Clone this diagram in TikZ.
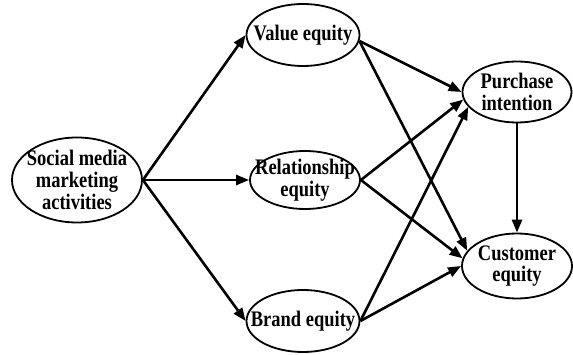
\documentclass[tikz,border=0pt]{standalone}
\usepackage{fontspec}
\setmainfont{Liberation Serif}
\usetikzlibrary{shapes.geometric,arrows.meta}

\begin{document}
\begin{tikzpicture}[
    x=1pt, y=-1pt,
    eqbox/.style={ellipse,draw,line width=1.8pt,inner sep=0pt},
    eqtext/.style={font=\fontsize{18.5}{18.2}\selectfont\bfseries,
        align=center,inner sep=0pt,yscale=1.2,transform shape},
    link/.style={line width=2.6pt,-{Triangle[length=13pt,width=10pt]}}]
    \useasboundingbox (0,0) rectangle (573,355);

    \node[eqbox,minimum width=130pt,minimum height=85pt,
        label={[eqtext]center:Social media\\marketing\\activities}] (smm) at (77,180) {};
    \node[eqbox,minimum width=113pt,minimum height=62pt,
        label={[eqtext]center:Value equity}] (val) at (303,35) {};
    \node[eqbox,minimum width=110pt,minimum height=58pt,
        label={[eqtext]center:Relationship\\equity}] (rel) at (305,180) {};
    \node[eqbox,minimum width=113pt,minimum height=62pt,
        label={[eqtext]center:Brand equity}] (brand) at (303,321) {};
    \node[eqbox,minimum width=109pt,minimum height=61pt,
        label={[eqtext]center:Purchase\\intention}] (pur) at (517,92) {};
    \node[eqbox,minimum width=110pt,minimum height=65pt,
        label={[eqtext]center:Customer\\equity}] (cust) at (517,266) {};

    \draw[link] (smm.east) -- (val.west);
    \draw[link] (smm.east) -- (rel.west);
    \draw[link] (smm.east) -- (brand.west);
    \draw[link] (val.-6) -- (pur.180);
    \draw[link] (val.-6) -- (cust.163);
    \draw[link] (rel.east) -- (pur.188);
    \draw[link] (rel.east) -- (cust.172);
    \draw[link] (brand.east) -- (pur.197);
    \draw[link] (brand.east) -- (cust.180);
    \draw[link] (pur.south) -- (cust.north);
\end{tikzpicture}
\end{document}
